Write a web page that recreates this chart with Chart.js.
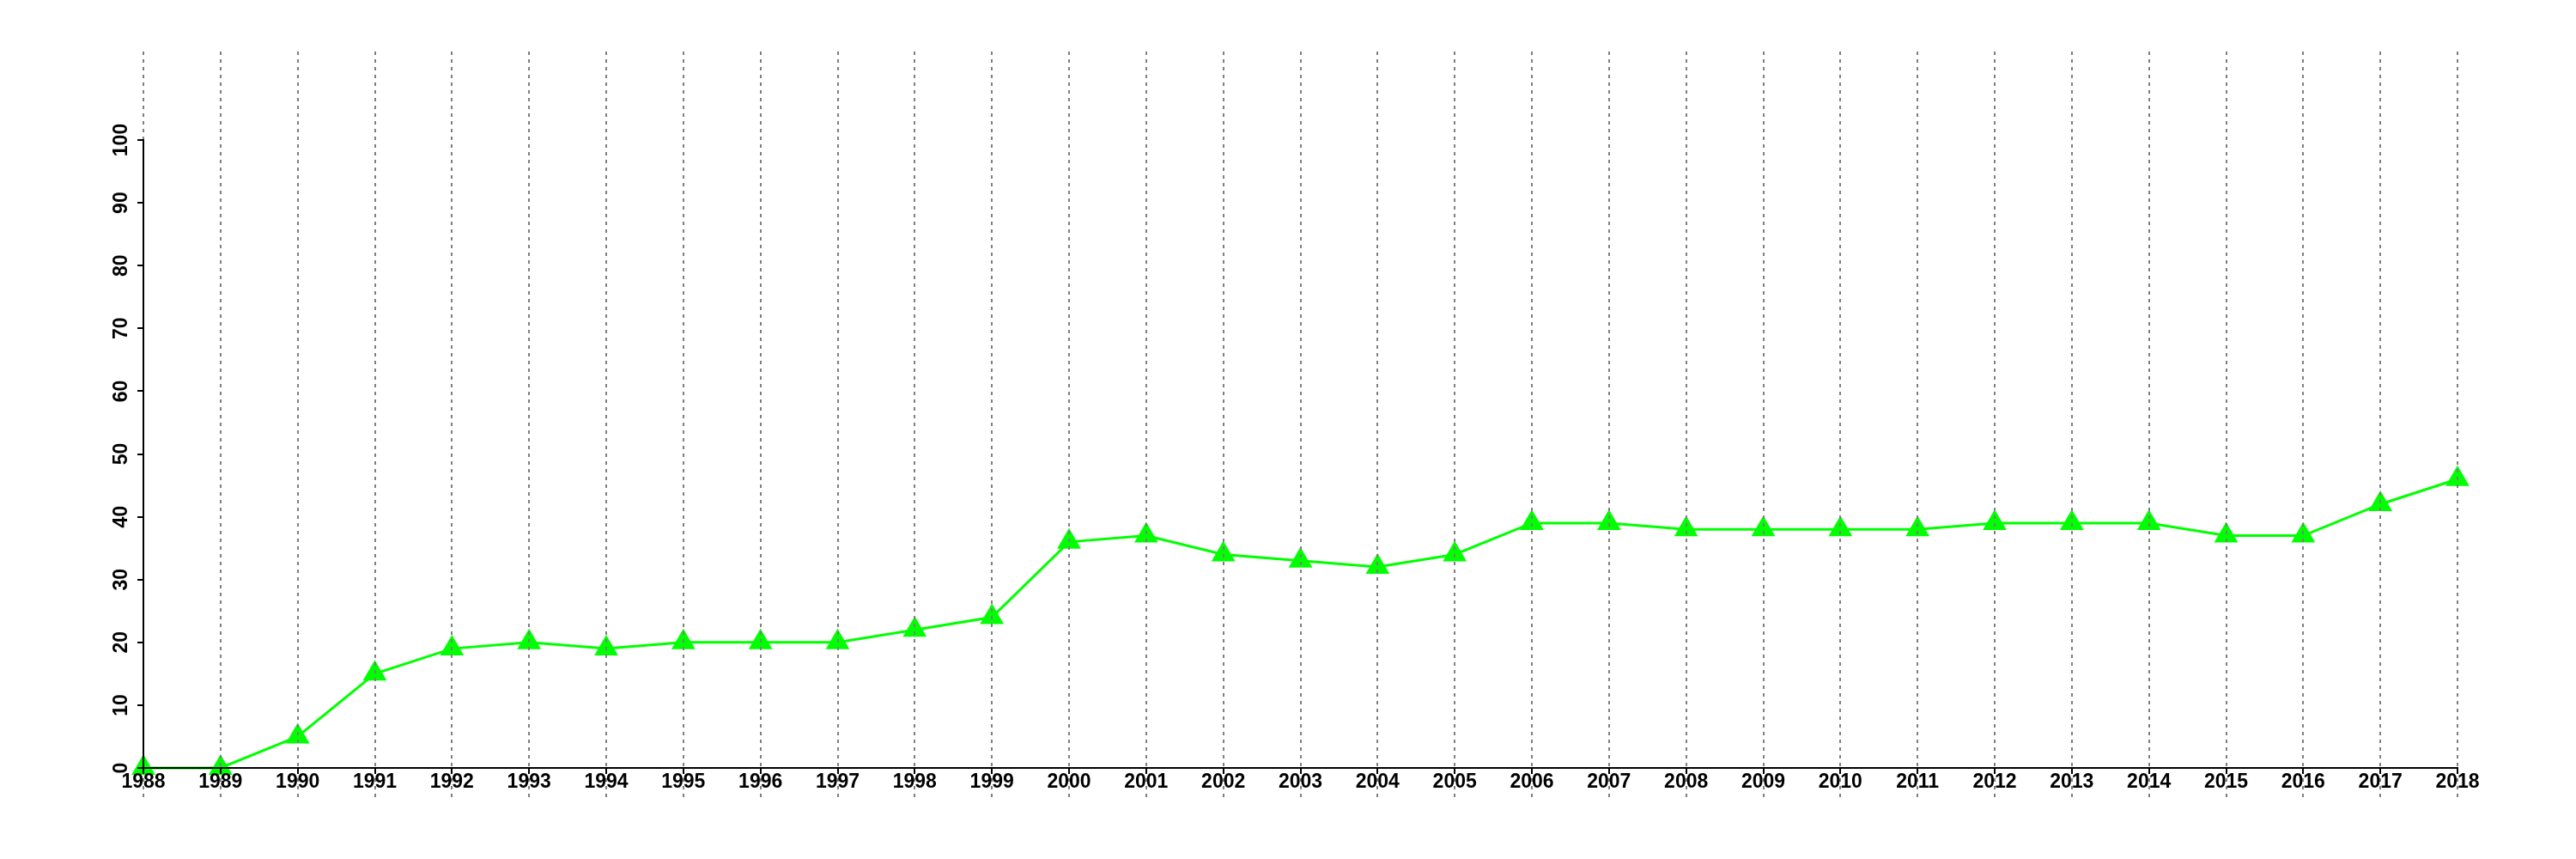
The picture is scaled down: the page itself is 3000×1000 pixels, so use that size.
<!DOCTYPE html>
<html>
<head>
<meta charset="utf-8">
<script src="https://cdn.jsdelivr.net/npm/chart.js@4.4.1/dist/chart.umd.min.js"></script>
<style>
  html, body { margin: 0; padding: 0; background: #fff; }
  #wrap { width: 3000px; height: 1000px; }
</style>
</head>
<body>
<div id="wrap"><canvas id="lineChart" width="3000" height="1000"></canvas></div>
<script>
// values
const years = ['1988', '1989', '1990', '1991', '1992', '1993', '1994', '1995', '1996', '1997',
               '1998', '1999', '2000', '2001', '2002', '2003', '2004', '2005', '2006', '2007',
               '2008', '2009', '2010', '2011', '2012', '2013', '2014', '2015', '2016', '2017', '2018'];
const values = [0, 0, 5, 15, 19, 20, 19, 20, 20, 20,
                22, 24, 36, 37, 34, 33, 32, 34, 39, 39,
                38, 38, 38, 38, 39, 39, 39, 37, 37, 42, 46];
const yMin = 0;
const yMax = 100;
const yStep = 10;

Chart.defaults.font.family = "'Liberation Sans', Arial, Helvetica, sans-serif";
Chart.defaults.font.size = 23;
Chart.defaults.font.weight = 'bold';
Chart.defaults.color = '#000';

// grey dotted guide at every year, running past the plot box
// drawn over the points but under the axes (axis layers use z: 1)
const yearGuides = {
    id: 'yearGuides',
    afterDatasetsDraw(chart) {
        const ctx = chart.ctx;
        const xs = chart.scales.x;
        ctx.save();
        ctx.strokeStyle = '#7f7f7f';
        ctx.lineWidth = 2;
        ctx.setLineDash([4, 5]);
        years.forEach((yr, i) => {
            const px = Math.round(xs.getPixelForValue(i));
            ctx.beginPath();
            ctx.moveTo(px, 60);
            ctx.lineTo(px, 928);
            ctx.stroke();
        });
        ctx.restore();
    }
};

const ctx = document.getElementById('lineChart').getContext('2d');
new Chart(ctx, {
    type: 'line',
    data: {
        labels: years,
        datasets: [{
            data: values,
            borderColor: '#00ff00',
            backgroundColor: '#00ff00',
            borderWidth: 3,
            pointStyle: 'triangle',
            pointRadius: 16,
            pointBorderWidth: 0,
            pointBackgroundColor: '#00ff00',
            tension: 0,
            clip: false
        }]
    },
    options: {
        responsive: false,
        animation: false,
        layout: { padding: { left: 0, right: 138, top: 163, bottom: 66 } },
        plugins: {
            legend: { display: false },
            tooltip: { enabled: false }
        },
        scales: {
            x: {
                ticks: { z: 1, autoSkip: false, minRotation: 0, maxRotation: 0, padding: -4, color: '#000' },
                grid: { z: 1, drawOnChartArea: false, tickLength: 7, color: '#000', lineWidth: 2 },
                border: { z: 1, display: true, color: '#000', width: 2 },
                afterFit(scale) { scale.height = 40; }
            },
            y: {
                min: yMin,
                max: yMax,
                ticks: { z: 1, stepSize: yStep, minRotation: 90, maxRotation: 90, crossAlign: 'center', padding: -1, color: '#000' },
                grid: { z: 1, drawOnChartArea: false, tickLength: 7, color: '#000', lineWidth: 2 },
                border: { z: 1, display: true, color: '#000', width: 2 },
                afterFit(scale) { scale.width = 167; }
            }
        }
    },
    plugins: [yearGuides]
});
</script>
</body>
</html>
